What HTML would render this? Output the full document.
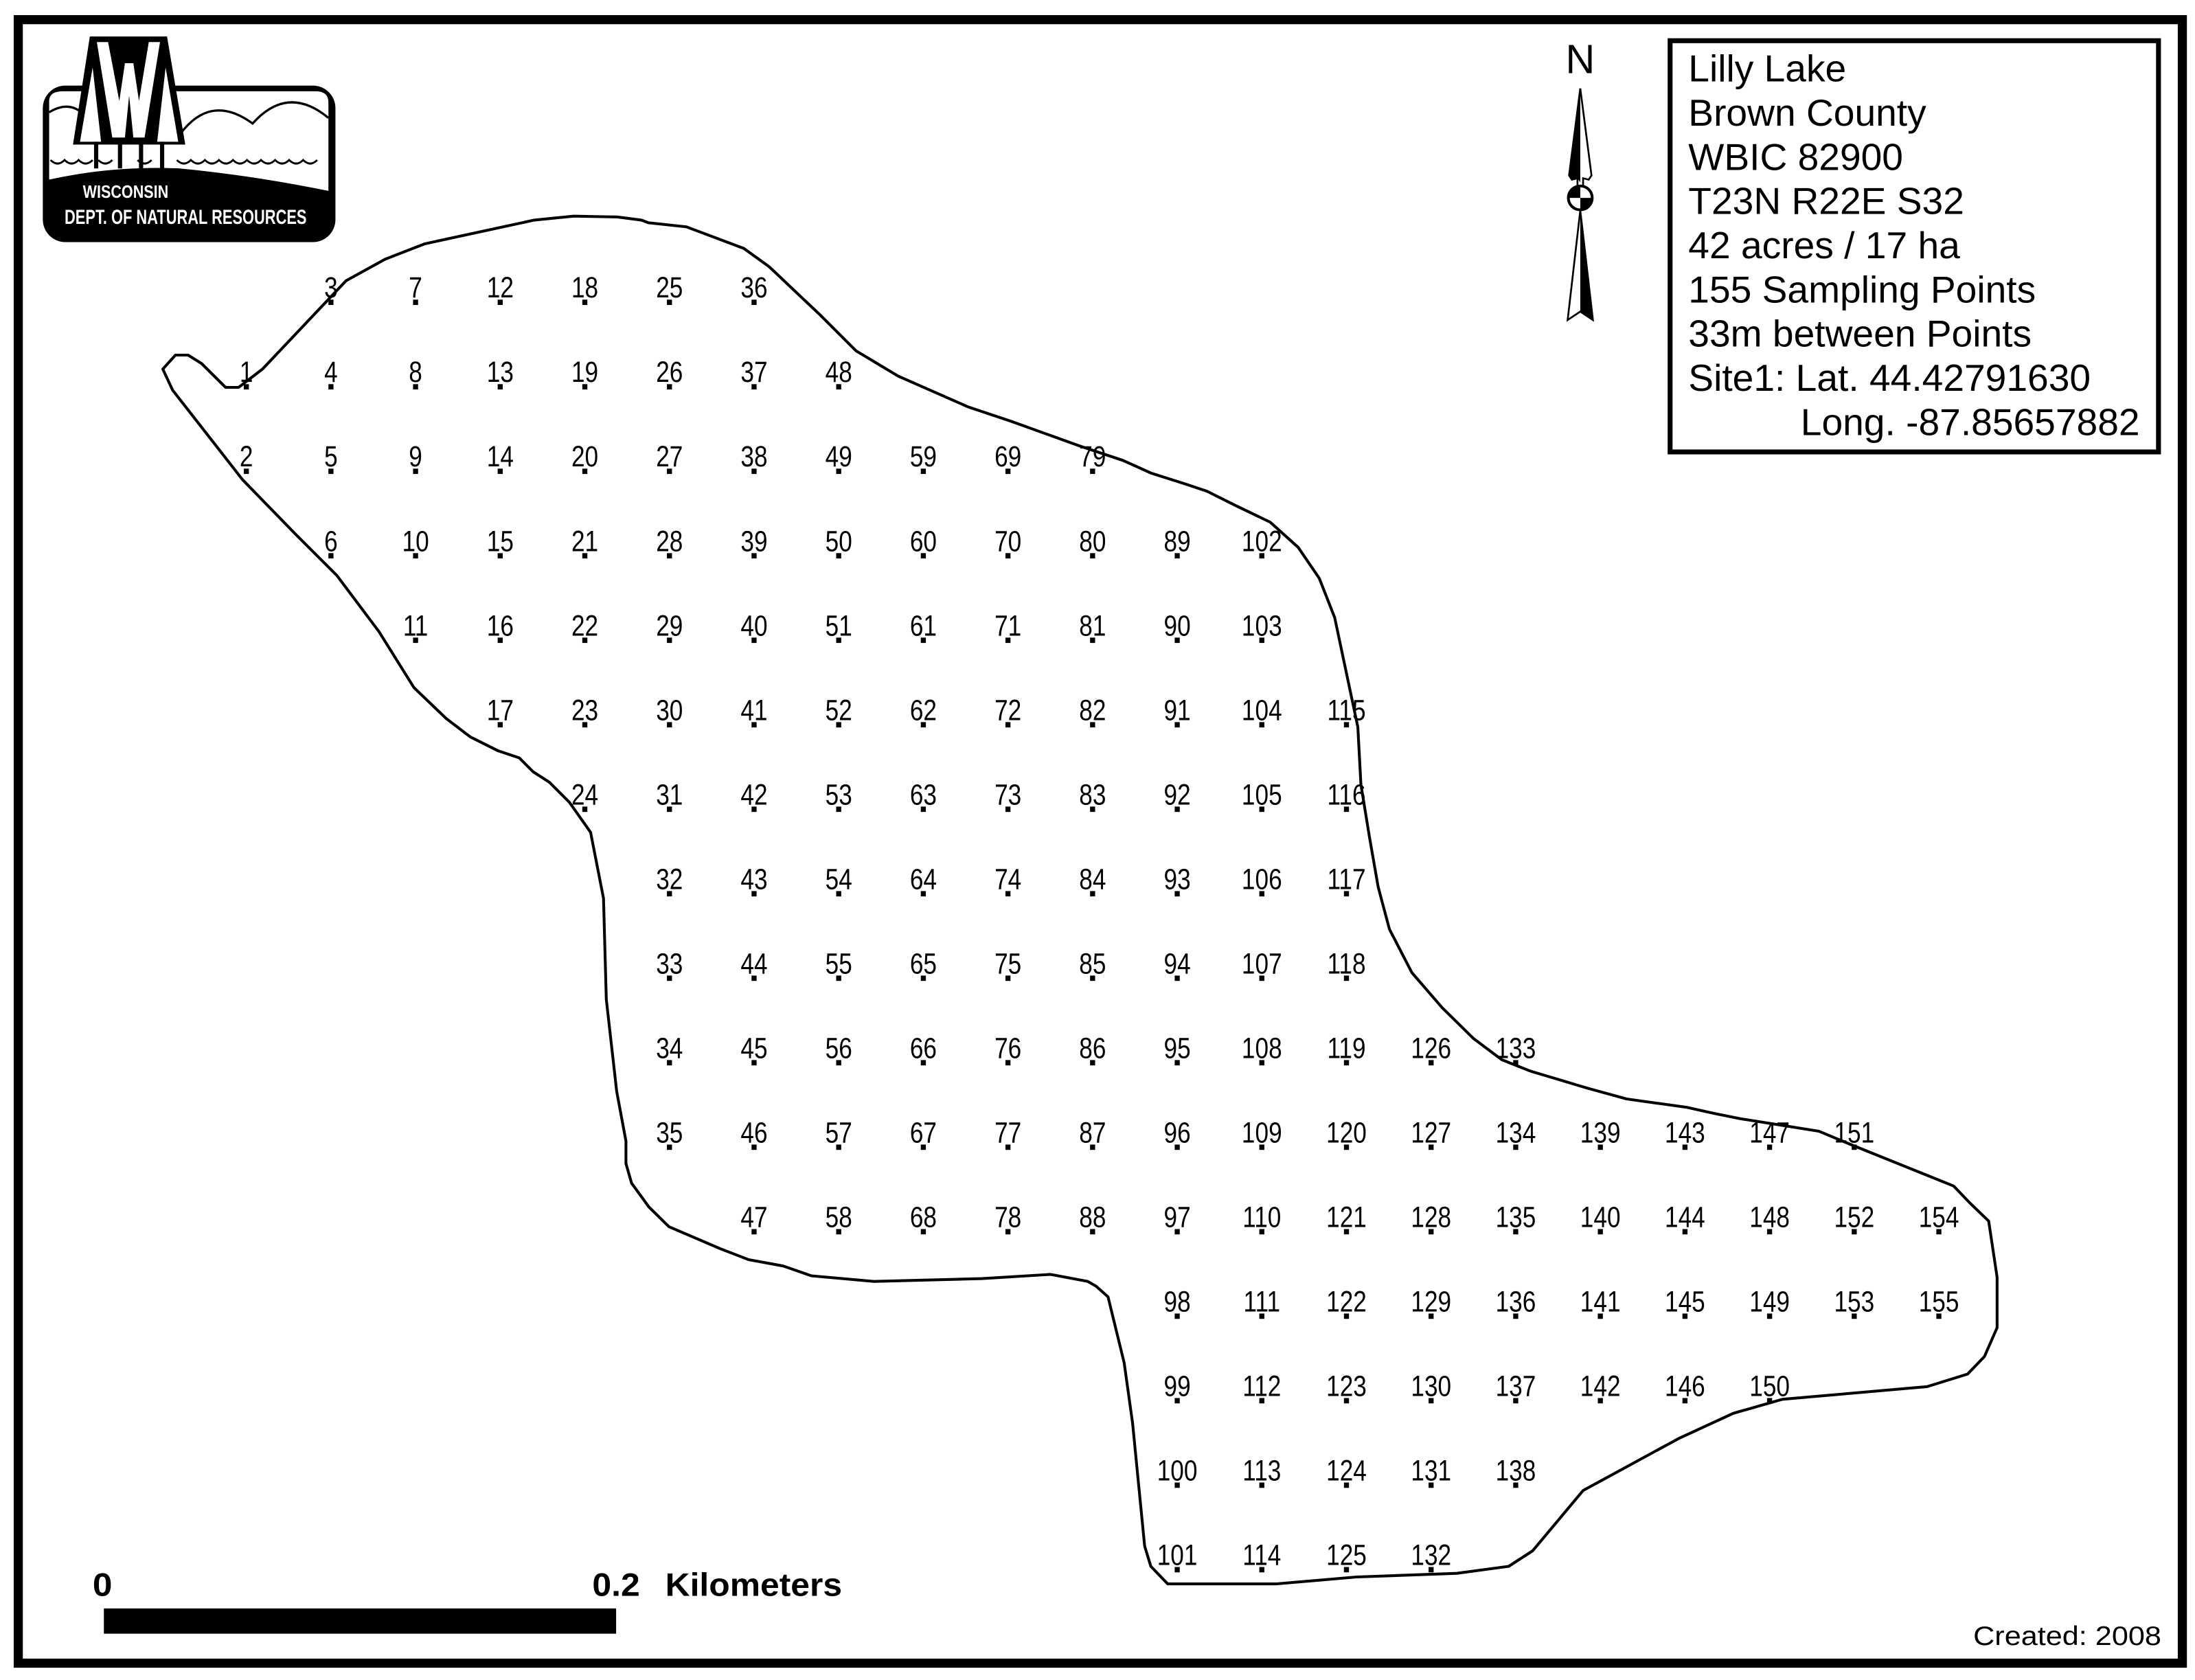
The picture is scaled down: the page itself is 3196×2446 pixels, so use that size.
<!DOCTYPE html>
<html><head><meta charset="utf-8"><style>
html,body{margin:0;padding:0;background:#fff}
svg{display:block}
.l text{font-family:"Liberation Sans",Arial,sans-serif;font-size:21px;text-anchor:middle}
.lg{font-family:"Liberation Sans",Arial,sans-serif;font-size:27px}
</style></head><body>
<svg id="s" width="3196" height="2446" viewBox="0 0 1564 1197" xmlns="http://www.w3.org/2000/svg">
<rect x="0" y="0" width="1564" height="1197" fill="#fff"/>
<rect x="13" y="14" width="1542" height="1171" fill="none" stroke="#000" stroke-width="6.5"/>

<!-- logo -->
<rect x="30.5" y="61" width="208.5" height="111.5" rx="16" fill="#000"/>
<path d="M35 72 Q35 65 45 65 L225 65 Q234 65 234 73 L234 136 Q180 125 128 120 Q80 118 35 128 Z" fill="#fff"/>
<path d="M35 80 Q48 72 58 80 M128 96 Q150 66 180 88 Q205 60 234 84" fill="none" stroke="#000" stroke-width="1.6"/>
<path d="M36 114 q5 5 10 0 q5 5 10 0 q5 5 10 0 M70 114 q5 5 10 0 M98 114 q5 5 10 0 M126 114 q5 5 10 0 q5 5 10 0 q5 5 10 0 q5 5 10 0 q5 5 10 0 q5 5 10 0 q5 5 10 0 q5 5 10 0 q5 5 10 0 q5 5 10 0" fill="none" stroke="#000" stroke-width="1.4"/>
<polygon points="64,26 119,26 132,103 52,103" fill="#000"/>
<polygon points="57,101 66,48 72,101" fill="#fff"/>
<polygon points="127,101 118,48 112,101" fill="#fff"/>
<polygon points="69,30 77,30 85,72 89,45 95,45 99,72 106,30 114,30 103,98 95,98 92,68 89,98 80,98" fill="#fff"/>
<rect x="67" y="101" width="3" height="19" fill="#000"/><rect x="84" y="101" width="3" height="19" fill="#000"/><rect x="99" y="101" width="3" height="19" fill="#000"/><rect x="114" y="101" width="3" height="19" fill="#000"/>
<text x="59" y="141" font-family="Liberation Sans,Arial,sans-serif" font-weight="bold" font-size="12.5" fill="#fff" textLength="61" lengthAdjust="spacingAndGlyphs">WISCONSIN</text>
<text x="46" y="159.5" font-family="Liberation Sans,Arial,sans-serif" font-weight="bold" font-size="14.5" fill="#fff" textLength="172.5" lengthAdjust="spacingAndGlyphs">DEPT. OF NATURAL RESOURCES</text>

<!-- north arrow -->
<text x="1126" y="52" font-family="Liberation Sans,Arial,sans-serif" font-size="29" text-anchor="middle">N</text>
<polygon points="1126,63 1118,125 1120,128 1124,127 1124,133 1128,133 1128,127 1132,128 1134,125" fill="#fff" stroke="#000" stroke-width="1.3"/>
<polygon points="1126,63 1118,125 1120,128 1124,127 1126,130" fill="#000"/>
<circle cx="1126" cy="141" r="8.5" fill="#fff" stroke="#000" stroke-width="2"/>
<path d="M1126 141 L1117.5 141 A8.5 8.5 0 0 1 1126 132.5 Z M1126 141 L1134.5 141 A8.5 8.5 0 0 1 1126 149.5 Z" fill="#000"/>
<polygon points="1126,150 1117,228 1126,222 1135,228" fill="#fff" stroke="#000" stroke-width="1.3"/>
<polygon points="1126,150 1126,222 1135,228" fill="#000"/>

<!-- legend -->
<rect x="1190" y="29" width="348" height="293" fill="none" stroke="#000" stroke-width="3.5"/>
<g class="lg">
<text x="1203" y="58">Lilly Lake</text>
<text x="1203" y="89.5">Brown County</text>
<text x="1203" y="121">WBIC 82900</text>
<text x="1203" y="152.5">T23N R22E S32</text>
<text x="1203" y="184">42 acres / 17 ha</text>
<text x="1203" y="215.5">155 Sampling Points</text>
<text x="1203" y="247">33m between Points</text>
<text x="1203" y="278.5">Site1: Lat. 44.42791630</text>
<text x="1283" y="310">Long. -87.85657882</text>
</g>

<!-- lake -->
<polygon fill="none" stroke="#000" stroke-width="2" stroke-linejoin="round" points="125,253 134,253 143.6,259 160.7,276 170,276 187,263 246.6,200 274.6,184.6 302.7,173.7 380.7,156.8 408.8,154 440,154.6 457,156.8 462,158.7 489,161.6 530,177 548,190 585,225 610,250 640,268 690,290 720,300 770,318 800,328 820,337 845,345 860,350 880,360 905,372 925,390 940,412 951,440 967.5,518 969.7,559 975.8,596.5 982,632 990,662 1006,693 1027.6,718 1050,740 1070,755 1090,763 1130,775 1159,783 1202,789 1220,793 1239.6,797 1296,806 1320,816 1392,845 1403.5,857 1417,870 1423,910 1423,946 1414,966.5 1402,979 1373,988 1270,997 1235,1007 1196,1025 1128,1062 1092,1105 1075,1116 1038,1121 966.5,1123.6 909.7,1128.5 832,1128.5 820,1116 815.6,1101.6 807,1014 801,971 789.5,924 781,916.4 775,913 748.6,908 699.7,911 622.7,913 578,909 558,902 533.4,897.5 513,889.6 476.6,874 462.4,860 450,843 446,829 446,813 439.4,777.6 432,712 430,640 420.8,593 405.7,571.6 391.5,557.4 380,550 370,540 355,535 335,525 318,512 295,490 270,450 240,410 210,380 173,342 123,278 116,263"/>

<g class="l">
<g transform="translate(175.5,0) scale(0.82,1)"><text y="272.2">1</text><text y="332.4">2</text></g>
<g transform="translate(235.8,0) scale(0.82,1)"><text y="212">3</text><text y="272.2">4</text><text y="332.4">5</text><text y="392.6">6</text></g>
<g transform="translate(296.1,0) scale(0.82,1)"><text y="212">7</text><text y="272.2">8</text><text y="332.4">9</text><text y="392.6">10</text><text y="452.8">11</text></g>
<g transform="translate(356.4,0) scale(0.82,1)"><text y="212">12</text><text y="272.2">13</text><text y="332.4">14</text><text y="392.6">15</text><text y="452.8">16</text><text y="513">17</text></g>
<g transform="translate(416.7,0) scale(0.82,1)"><text y="212">18</text><text y="272.2">19</text><text y="332.4">20</text><text y="392.6">21</text><text y="452.8">22</text><text y="513">23</text><text y="573.2">24</text></g>
<g transform="translate(477,0) scale(0.82,1)"><text y="212">25</text><text y="272.2">26</text><text y="332.4">27</text><text y="392.6">28</text><text y="452.8">29</text><text y="513">30</text><text y="573.2">31</text><text y="633.4">32</text><text y="693.6">33</text><text y="753.8">34</text><text y="814">35</text></g>
<g transform="translate(537.3,0) scale(0.82,1)"><text y="212">36</text><text y="272.2">37</text><text y="332.4">38</text><text y="392.6">39</text><text y="452.8">40</text><text y="513">41</text><text y="573.2">42</text><text y="633.4">43</text><text y="693.6">44</text><text y="753.8">45</text><text y="814">46</text><text y="874.2">47</text></g>
<g transform="translate(597.6,0) scale(0.82,1)"><text y="272.2">48</text><text y="332.4">49</text><text y="392.6">50</text><text y="452.8">51</text><text y="513">52</text><text y="573.2">53</text><text y="633.4">54</text><text y="693.6">55</text><text y="753.8">56</text><text y="814">57</text><text y="874.2">58</text></g>
<g transform="translate(657.9,0) scale(0.82,1)"><text y="332.4">59</text><text y="392.6">60</text><text y="452.8">61</text><text y="513">62</text><text y="573.2">63</text><text y="633.4">64</text><text y="693.6">65</text><text y="753.8">66</text><text y="814">67</text><text y="874.2">68</text></g>
<g transform="translate(718.2,0) scale(0.82,1)"><text y="332.4">69</text><text y="392.6">70</text><text y="452.8">71</text><text y="513">72</text><text y="573.2">73</text><text y="633.4">74</text><text y="693.6">75</text><text y="753.8">76</text><text y="814">77</text><text y="874.2">78</text></g>
<g transform="translate(778.5,0) scale(0.82,1)"><text y="332.4">79</text><text y="392.6">80</text><text y="452.8">81</text><text y="513">82</text><text y="573.2">83</text><text y="633.4">84</text><text y="693.6">85</text><text y="753.8">86</text><text y="814">87</text><text y="874.2">88</text></g>
<g transform="translate(838.8,0) scale(0.82,1)"><text y="392.6">89</text><text y="452.8">90</text><text y="513">91</text><text y="573.2">92</text><text y="633.4">93</text><text y="693.6">94</text><text y="753.8">95</text><text y="814">96</text><text y="874.2">97</text><text y="934.4">98</text><text y="994.6">99</text><text y="1054.8">100</text><text y="1115">101</text></g>
<g transform="translate(899.1,0) scale(0.82,1)"><text y="392.6">102</text><text y="452.8">103</text><text y="513">104</text><text y="573.2">105</text><text y="633.4">106</text><text y="693.6">107</text><text y="753.8">108</text><text y="814">109</text><text y="874.2">110</text><text y="934.4">111</text><text y="994.6">112</text><text y="1054.8">113</text><text y="1115">114</text></g>
<g transform="translate(959.4,0) scale(0.82,1)"><text y="513">115</text><text y="573.2">116</text><text y="633.4">117</text><text y="693.6">118</text><text y="753.8">119</text><text y="814">120</text><text y="874.2">121</text><text y="934.4">122</text><text y="994.6">123</text><text y="1054.8">124</text><text y="1115">125</text></g>
<g transform="translate(1019.7,0) scale(0.82,1)"><text y="753.8">126</text><text y="814">127</text><text y="874.2">128</text><text y="934.4">129</text><text y="994.6">130</text><text y="1054.8">131</text><text y="1115">132</text></g>
<g transform="translate(1080,0) scale(0.82,1)"><text y="753.8">133</text><text y="814">134</text><text y="874.2">135</text><text y="934.4">136</text><text y="994.6">137</text><text y="1054.8">138</text></g>
<g transform="translate(1140.3,0) scale(0.82,1)"><text y="814">139</text><text y="874.2">140</text><text y="934.4">141</text><text y="994.6">142</text></g>
<g transform="translate(1200.6,0) scale(0.82,1)"><text y="814">143</text><text y="874.2">144</text><text y="934.4">145</text><text y="994.6">146</text></g>
<g transform="translate(1260.9,0) scale(0.82,1)"><text y="814">147</text><text y="874.2">148</text><text y="934.4">149</text><text y="994.6">150</text></g>
<g transform="translate(1321.2,0) scale(0.82,1)"><text y="814">151</text><text y="874.2">152</text><text y="934.4">153</text></g>
<g transform="translate(1381.5,0) scale(0.82,1)"><text y="874.2">154</text><text y="934.4">155</text></g>
</g>
<g id="dots"></g>

<!-- scale bar -->
<rect x="74" y="1146" width="365" height="18" fill="#000"/>
<g font-family="Liberation Sans,Arial,sans-serif" font-weight="bold" font-size="23">
<text x="66" y="1137" textLength="14" lengthAdjust="spacingAndGlyphs">0</text>
<text x="422" y="1137" textLength="34" lengthAdjust="spacingAndGlyphs">0.2</text>
<text x="474" y="1137" textLength="126" lengthAdjust="spacingAndGlyphs">Kilometers</text>
</g>
<text x="1406" y="1172" font-family="Liberation Sans,Arial,sans-serif" font-size="19" textLength="134" lengthAdjust="spacingAndGlyphs">Created: 2008</text>
</svg>
<script>
(function(){
var ns="http://www.w3.org/2000/svg",d=document.getElementById("dots");
var gs=document.querySelectorAll(".l > g");
gs.forEach(function(g){
 var x=parseFloat(g.getAttribute("transform").match(/translate\(([\d.]+)/)[1]);
 g.querySelectorAll("text").forEach(function(t){
  var y=parseFloat(t.getAttribute("y"));
  var r=document.createElementNS(ns,"rect");
  r.setAttribute("x",x-1.8);r.setAttribute("y",y+1.5);
  r.setAttribute("width",3.6);r.setAttribute("height",3.8);
  d.appendChild(r);
 });
});
})();
</script>
</body></html>
